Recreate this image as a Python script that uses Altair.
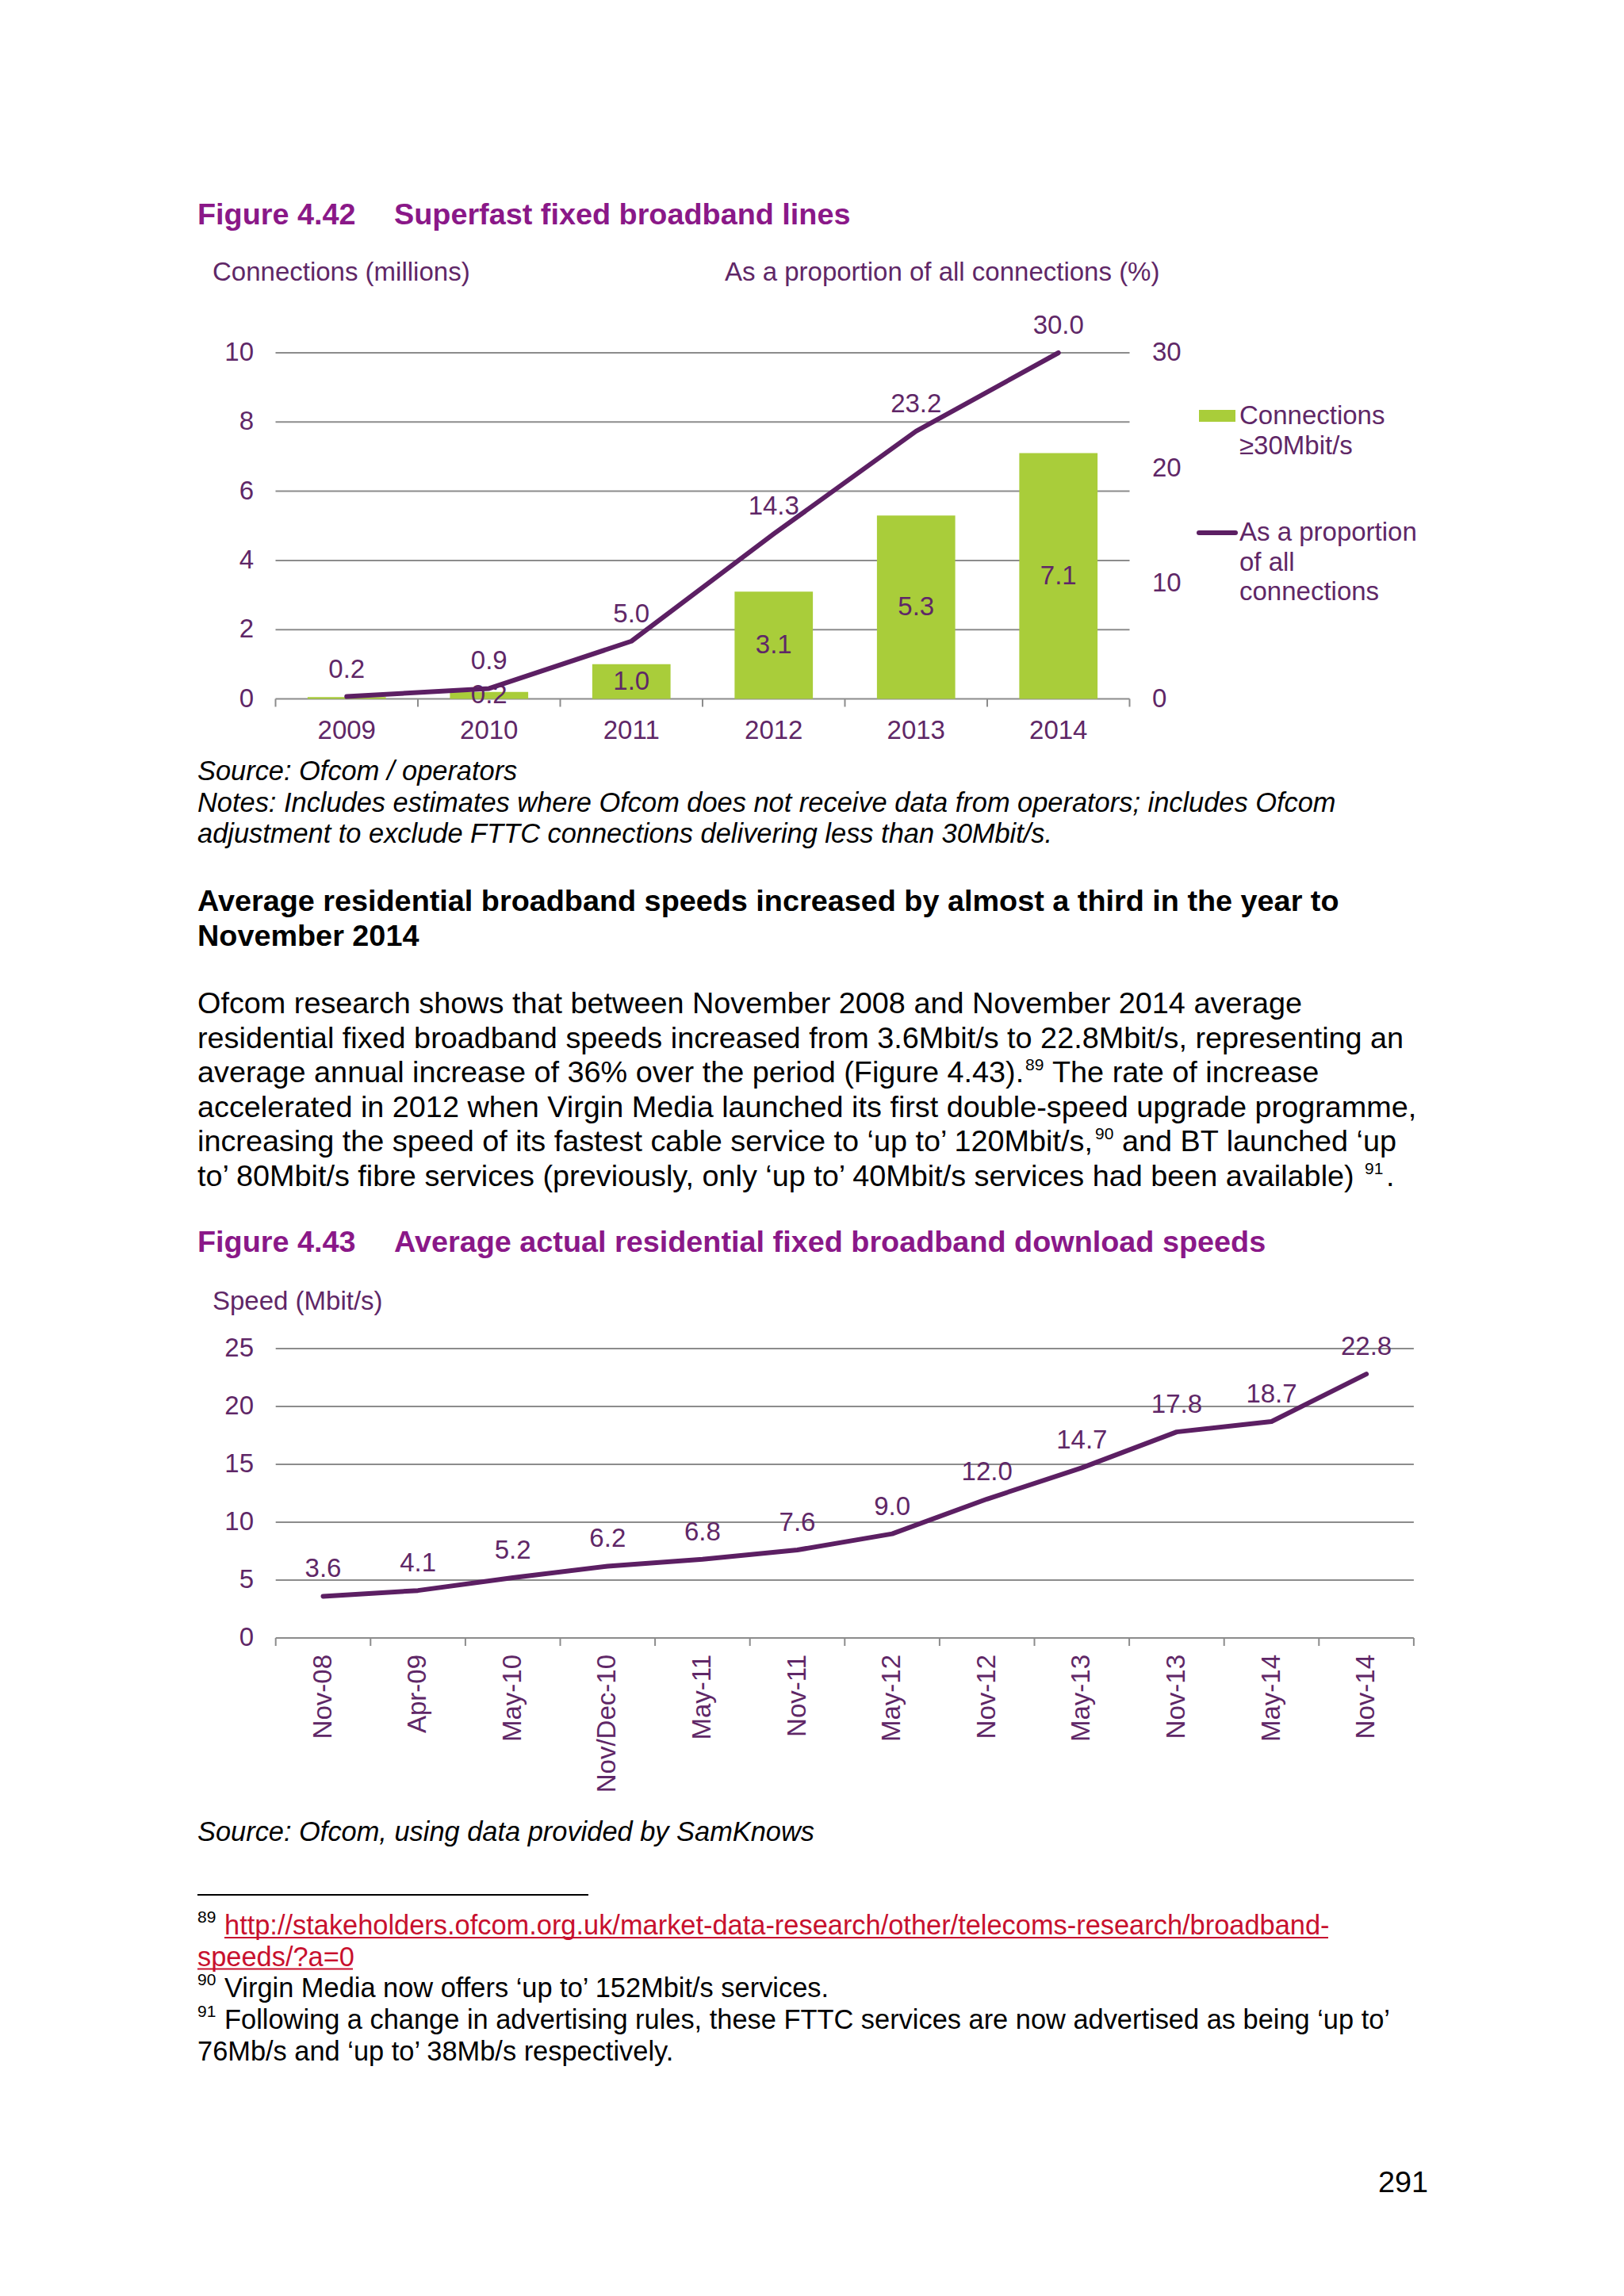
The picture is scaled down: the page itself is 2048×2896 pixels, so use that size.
import altair as alt
import pandas as pd

# ---------------- data ----------------
years = ["2009", "2010", "2011", "2012", "2013", "2014"]
connections_m = [0.05, 0.2, 1.0, 3.1, 5.3, 7.1]
proportion_pct = [0.2, 0.9, 5.0, 14.3, 23.2, 30.0]
left_ticks = [0, 2, 4, 6, 8, 10]
right_ticks = [0, 10, 20, 30]

periods = ["Nov-08", "Apr-09", "May-10", "Nov/Dec-10", "May-11", "Nov-11",
           "May-12", "Nov-12", "May-13", "Nov-13", "May-14", "Nov-14"]
speeds = [3.6, 4.1, 5.2, 6.2, 6.8, 7.6, 9.0, 12.0, 14.7, 17.8, 18.7, 22.8]
speed_ticks = [0, 5, 10, 15, 20, 25]

# ---------------- page text ----------------
fig1_num = "Figure 4.42"
fig1_title = "Superfast fixed broadband lines"
fig1_left_title = "Connections (millions)"
fig1_right_title = "As a proportion of all connections (%)"
legend_bar = ["Connections", "\u226530Mbit/s"]
legend_line = ["As a proportion", "of all", "connections"]
source1 = "Source: Ofcom / operators"
notes1 = ["Notes: Includes estimates where Ofcom does not receive data from operators; includes Ofcom",
          "adjustment to exclude FTTC connections delivering less than 30Mbit/s."]
heading = ["Average residential broadband speeds increased by almost a third in the year to",
           "November 2014"]
paragraph = [
    "Ofcom research shows that between November 2008 and November 2014 average",
    "residential fixed broadband speeds increased from 3.6Mbit/s to 22.8Mbit/s, representing an",
    "average annual increase of 36% over the period (Figure 4.43).",
    "accelerated in 2012 when Virgin Media launched its first double-speed upgrade programme,",
    "increasing the speed of its fastest cable service to \u2018up to\u2019 120Mbit/s,",
    "to\u2019 80Mbit/s fibre services (previously, only \u2018up to\u2019 40Mbit/s services had been available)",
]
# (line index, superscript, x of superscript, text after it, x of that text)
paragraph_refs = [
    (2, "89", 1293, "The rate of increase", 1327),
    (4, "90", 1381, "and BT launched \u2018up", 1415),
    (5, "91", 1721, ".", 1748),
]
fig2_num = "Figure 4.43"
fig2_title = "Average actual residential fixed broadband download speeds"
fig2_y_title = "Speed (Mbit/s)"
source2 = "Source: Ofcom, using data provided by SamKnows"
fn_link = ["http://stakeholders.ofcom.org.uk/market-data-research/other/telecoms-research/broadband-",
           "speeds/?a=0"]
fn90 = "Virgin Media now offers \u2018up to\u2019 152Mbit/s services."
fn91 = ["Following a change in advertising rules, these FTTC services are now advertised as being \u2018up to\u2019",
        "76Mb/s and \u2018up to\u2019 38Mb/s respectively."]
page_no = "291"

# ---------------- style ----------------
FONT = "Liberation Sans"
TITLE_PURPLE = "#8A1888"
CHART_TXT = "#5F2767"
LINE = "#5C1F63"
GREEN = "#A9CD3A"
GRID = "#8C8C8C"
LINK = "#C8102E"
BODY = 37.8
SMALL = 34.4
SUP = 21
CHART_FS = 33
LW = 6

O = 8
def P(v):
    return v - O

one = pd.DataFrame({"k": [0]})
layers = []

def text(s, x, y, size, color="#000000", weight="normal", style="normal", align="left"):
    layers.append(
        alt.Chart(one).mark_text(text=s, font=FONT, fontSize=size, fontWeight=weight,
                                 fontStyle=style, color=color, align=align,
                                 baseline="alphabetic")
        .encode(x=alt.value(P(x)), y=alt.value(P(y)))
    )

def hrule(x1, x2, y, color, w):
    layers.append(
        alt.Chart(one).mark_rule(color=color, strokeWidth=w)
        .encode(x=alt.value(P(x1)), x2=alt.value(P(x2)), y=alt.value(P(y)))
    )

# ================= Figure 4.42 =================
text(fig1_num, 249, 283, BODY, TITLE_PURPLE, "bold")
text(fig1_title, 497, 283, BODY, TITLE_PURPLE, "bold")
text(fig1_left_title, 268, 354, CHART_FS, CHART_TXT)
text(fig1_right_title, 914, 354, CHART_FS, CHART_TXT)

C1_X0, C1_X1 = 347.5, 1424.5
C1_Y0, C1_Y1 = 881.5, 445
df1 = pd.DataFrame({"year": years, "conn": connections_m, "prop": proportion_pct})
x1 = alt.Scale(domain=years, range=[P(C1_X0), P(C1_X1)], paddingInner=0.45, paddingOuter=0.225)
yL = alt.Scale(domain=[0, 10], range=[P(C1_Y0), P(C1_Y1)])
yR = alt.Scale(domain=[0, 30], range=[P(C1_Y0), P(C1_Y1)])
X1 = alt.X("year:N", scale=x1, axis=None)

layers.append(alt.Chart(pd.DataFrame({"v": left_ticks})).mark_rule(color=GRID, strokeWidth=2)
              .encode(y=alt.Y("v:Q", scale=yL, axis=None),
                      x=alt.value(P(C1_X0)), x2=alt.value(P(C1_X1))))
layers.append(alt.Chart(pd.DataFrame({"v": left_ticks})).mark_text(
    font=FONT, fontSize=CHART_FS, color=CHART_TXT, align="right", baseline="middle")
    .encode(y=alt.Y("v:Q", scale=yL, axis=None), x=alt.value(P(320)), text=alt.Text("v:Q")))
layers.append(alt.Chart(pd.DataFrame({"v": right_ticks})).mark_text(
    font=FONT, fontSize=CHART_FS, color=CHART_TXT, align="left", baseline="middle")
    .encode(y=alt.Y("v:Q", scale=yR, axis=None), x=alt.value(P(1453)), text=alt.Text("v:Q")))
# band boundary ticks
layers.append(alt.Chart(pd.DataFrame({"b": list(range(len(years) + 1))})).mark_rule(color=GRID, strokeWidth=2)
              .encode(x=alt.X("b:Q", scale=alt.Scale(domain=[0, len(years)], range=[P(C1_X0), P(C1_X1)]), axis=None),
                      y=alt.value(P(C1_Y0)), y2=alt.value(P(C1_Y0 + 10))))
# category labels
layers.append(alt.Chart(df1).mark_text(font=FONT, fontSize=CHART_FS, color=CHART_TXT,
                                       align="center", baseline="alphabetic")
              .encode(x=X1, y=alt.value(P(932)), text="year:N"))
# bars
layers.append(alt.Chart(df1).mark_bar(color=GREEN)
              .encode(x=X1, y=alt.Y("conn:Q", scale=yL, axis=None)))
layers.append(alt.Chart(df1).transform_filter("datum.conn >= 0.1")
              .transform_calculate(mid="datum.conn / 2")
              .mark_text(font=FONT, fontSize=CHART_FS, color=CHART_TXT, align="center", baseline="middle")
              .encode(x=X1, y=alt.Y("mid:Q", scale=yL, axis=None), text=alt.Text("conn:Q", format=".1f")))
# line
layers.append(alt.Chart(df1).mark_line(color=LINE, strokeWidth=LW, strokeCap="round", strokeJoin="round")
              .encode(x=X1, y=alt.Y("prop:Q", scale=yR, axis=None)))
layers.append(alt.Chart(df1).mark_text(font=FONT, fontSize=CHART_FS, color=CHART_TXT,
                                       align="center", baseline="middle", dy=-34)
              .encode(x=X1, y=alt.Y("prop:Q", scale=yR, axis=None), text=alt.Text("prop:Q", format=".1f")))
# legend
layers.append(alt.Chart(one).mark_rect(color=GREEN)
              .encode(x=alt.value(P(1512)), x2=alt.value(P(1558)), y=alt.value(P(517)), y2=alt.value(P(532))))
for i, s in enumerate(legend_bar):
    text(s, 1563, 535 + 38 * i, CHART_FS, CHART_TXT)
layers.append(alt.Chart(one).mark_rule(color=LINE, strokeWidth=LW, strokeCap="round")
              .encode(x=alt.value(P(1512)), x2=alt.value(P(1558)), y=alt.value(P(672))))
for i, s in enumerate(legend_line):
    text(s, 1563, 682 + 37.5 * i, CHART_FS, CHART_TXT)

# ================= text between charts =================
text(source1, 249, 984, SMALL, style="italic")
for i, s in enumerate(notes1):
    text(s, 249, 1023.6 + 39.6 * i, SMALL, style="italic")
for i, s in enumerate(heading):
    text(s, 249, 1149 + 43.5 * i, BODY, weight="bold")
PARA_Y0, PARA_LH = 1278, 43.5
for i, s in enumerate(paragraph):
    text(s, 249, PARA_Y0 + PARA_LH * i, BODY)
for li, sup, sx, rest, rx in paragraph_refs:
    base_y = PARA_Y0 + PARA_LH * li
    text(sup, sx, base_y - 15, SUP)
    text(rest, rx, base_y, BODY)

# ================= Figure 4.43 =================
text(fig2_num, 249, 1579, BODY, TITLE_PURPLE, "bold")
text(fig2_title, 497, 1579, BODY, TITLE_PURPLE, "bold")
text(fig2_y_title, 268, 1652, CHART_FS, CHART_TXT)

C2_X0, C2_X1 = 347.7, 1782.9
C2_Y0, C2_Y1 = 2066, 1701
df2 = pd.DataFrame({"period": periods, "speed": speeds})
x2 = alt.Scale(domain=periods, range=[P(C2_X0), P(C2_X1)], paddingInner=0, paddingOuter=0)
y2 = alt.Scale(domain=[0, 25], range=[P(C2_Y0), P(C2_Y1)])
X2 = alt.X("period:N", scale=x2, axis=None)

layers.append(alt.Chart(pd.DataFrame({"v": speed_ticks})).mark_rule(color=GRID, strokeWidth=2)
              .encode(y=alt.Y("v:Q", scale=y2, axis=None),
                      x=alt.value(P(C2_X0)), x2=alt.value(P(C2_X1))))
layers.append(alt.Chart(pd.DataFrame({"v": speed_ticks})).mark_text(
    font=FONT, fontSize=CHART_FS, color=CHART_TXT, align="right", baseline="middle")
    .encode(y=alt.Y("v:Q", scale=y2, axis=None), x=alt.value(P(320)), text=alt.Text("v:Q")))
layers.append(alt.Chart(pd.DataFrame({"b": list(range(len(periods) + 1))})).mark_rule(color=GRID, strokeWidth=2)
              .encode(x=alt.X("b:Q", scale=alt.Scale(domain=[0, len(periods)], range=[P(C2_X0), P(C2_X1)]), axis=None),
                      y=alt.value(P(C2_Y0)), y2=alt.value(P(C2_Y0 + 10))))
layers.append(alt.Chart(df2).mark_text(font=FONT, fontSize=CHART_FS, color=CHART_TXT,
                                       align="right", baseline="middle", angle=270)
              .encode(x=X2, y=alt.value(P(2087)), text="period:N"))
layers.append(alt.Chart(df2).mark_line(color=LINE, strokeWidth=LW, strokeCap="round", strokeJoin="round")
              .encode(x=X2, y=alt.Y("speed:Q", scale=y2, axis=None)))
layers.append(alt.Chart(df2).mark_text(font=FONT, fontSize=CHART_FS, color=CHART_TXT,
                                       align="center", baseline="middle", dy=-34)
              .encode(x=X2, y=alt.Y("speed:Q", scale=y2, axis=None), text=alt.Text("speed:Q", format=".1f")))

text(source2, 249, 2322, SMALL, style="italic")

# ================= footnotes =================
hrule(249, 742, 2390, "#000000", 2)
text("89", 249, 2425, SUP)
text(fn_link[0], 283, 2440, SMALL, LINK)
hrule(283, 1675, 2444, LINK, 2)
text(fn_link[1], 249, 2479.6, SMALL, LINK)
hrule(249, 445, 2483.6, LINK, 2)
text("90", 249, 2504, SUP)
text(fn90, 283, 2519, SMALL)
text("91", 249, 2544, SUP)
text(fn91[0], 283, 2559, SMALL)
text(fn91[1], 249, 2598.6, SMALL)
text(page_no, 1801, 2765, BODY, align="right")

chart = (alt.layer(*layers)
         .resolve_scale(x="independent", y="independent")
         .properties(width=2032, height=2880, padding=0, background="white",
                     autosize=alt.AutoSizeParams(type="none"))
         .configure_view(stroke=None))

chart.save("out.html", embed_options={"renderer": "svg", "actions": False})
